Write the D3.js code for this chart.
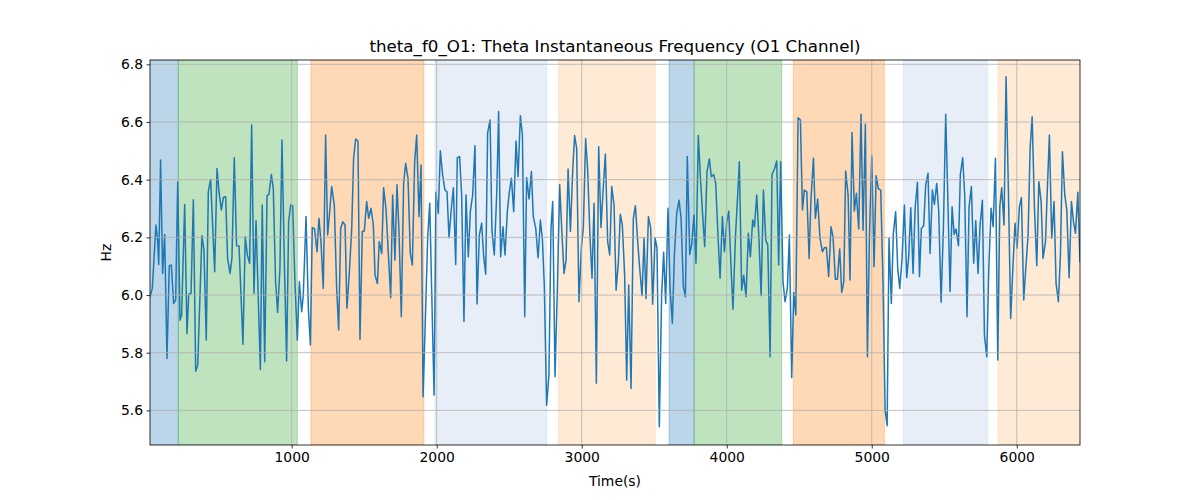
<!DOCTYPE html>
<html><head><meta charset="utf-8">
<script src="https://cdn.jsdelivr.net/npm/d3@7"></script>
<style>body{margin:0;background:#fff}svg{display:block}text{font-family:"DejaVu Sans",sans-serif;fill:#000}</style>
</head><body><svg id="c" width="1200" height="500"></svg>
<script>
const title = "theta_f0_O1: Theta Instantaneous Frequency (O1 Channel)";
const xLabel = "Time(s)";
const yLabel = "Hz";
const xTicks = [1000, 2000, 3000, 4000, 5000, 6000];
const yTicks = [5.6, 5.8, 6.0, 6.2, 6.4, 6.6, 6.8];
const xDomain = [23, 6436];
const yDomain = [5.48, 6.815];

const spanStart = [0, 218, 1133, 1988, 2839, 3602, 3775, 4459, 5218, 5871];
const spanEnd   = [218, 1039, 1912, 2759, 3506, 3775, 4379, 5087, 5800, 6500];
const spanColor = ["#1f77b4", "#2ca02c", "#ff7f0e", "#aec7e8", "#ffbb78", "#1f77b4", "#2ca02c", "#ff7f0e", "#aec7e8", "#ffbb78"];

const times = [23,39,64,76,83,96,110,124,140,156,170,186,200,214,230,241,262,278,290,306,322,338,352,381,395,411,425,441,469,485,499,515,529,545,558,575,588,604,620,637,664,680,694,710,724,740,754,784,797,814,830,843,860,873,889,903,919,933,949,965,979,993,1007,1023,
1039,1053,1069,1080,1099,1115,1129,1142,1158,1175,1188,1202,1218,1234,1248,1262,1276,1294,1310,1324,1338,1352,1368,1381,1398,1414,1427,1441,1457,1471,1487,1501,1517,1531,1547,1563,1575,1591,1604,1621,1634,1650,1667,1683,1696,1712,1726,1740,1756,1772,1786,1802,1818,1832,1848,1862,1878,1892,1906,1924,1938,1952,1965,1982,1995,2011,2025,2041,
2057,2071,2085,2099,2115,2131,2142,2158,2172,2188,2202,2218,2232,2248,2264,2278,2294,2310,2324,2338,2351,2368,2381,2397,2414,2427,2441,2457,2471,2487,2501,2515,2531,2547,2561,2577,2591,2607,2620,2637,2653,2666,2683,2699,2715,2729,2742,2758,2774,2788,2800,2816,2832,2848,2862,2878,2892,2906,2922,2938,2951,2965,2981,2998,3011,3027,3041,3057,3071,3085,3101,
3117,3133,3147,3163,3179,3193,3207,3223,3237,3253,3266,3280,3296,3310,3324,3340,3356,3370,3386,3400,3416,3430,3443,3460,3476,3489,3506,3519,3535,3551,3565,3579,3595,3609,3625,3639,3655,3671,3685,3701,3715,3728,3745,3758,3774,3788,3804,3818,3834,3848,3864,3880,3894,3910,3924,3940,3954,3970,3984,4000,4014,4030,4043,4060,4073,4087,4103,4117,4133,4149,4163,4179,
4191,4207,4223,4237,4253,4269,4283,4299,4312,4329,4345,4358,4372,4388,4402,4418,4432,4448,4462,4476,4492,4508,4522,4535,4552,4568,4581,4598,4611,4627,4643,4660,4673,4687,4703,4719,4733,4749,4763,4779,4793,4807,4820,4837,4850,4864,4880,4894,4910,4926,4940,4956,4970,4984,5000,5016,5030,5046,5062,5078,5092,5106,5119,5135,5149,5165,5179,5193,5209,
5225,5241,5255,5269,5285,5299,5315,5329,5342,5358,5372,5388,5402,5418,5432,5448,5462,5478,5494,5510,5524,5540,5554,5568,5581,5598,5611,5627,5641,5657,5671,5687,5703,5717,5733,5747,5763,5777,5793,5807,5823,5837,5853,5869,5883,5896,5912,5926,5942,5958,5972,5988,6002,6018,6032,6048,6062,6078,6092,6106,6122,6138,6152,6168,6181,6198,6211,6225,6241,6257,6271,6287,6301,6315,6331,6345,6361,6377,6391,6405,6421,6436];

const values = [5.994,6.023,6.243,6.185,6.106,6.468,6.075,6.210,5.780,6.102,6.104,5.971,5.983,6.391,5.913,5.931,6.314,5.867,6.003,6.006,6.330,5.736,5.757,6.206,6.156,5.844,6.358,6.401,6.081,6.439,6.358,6.295,6.338,6.341,6.127,6.075,6.127,6.476,6.171,6.170,5.829,6.202,6.139,6.110,6.590,6.006,6.258,5.742,6.312,5.769,6.345,6.349,6.418,6.370,6.046,5.940,6.092,6.538,6.127,5.771,6.254,6.312,6.310,6.035,
5.844,6.046,5.942,6.000,6.272,5.954,5.827,6.234,6.229,6.150,6.266,6.185,6.023,6.555,6.208,6.289,6.376,6.312,6.023,5.879,6.231,6.254,6.243,5.954,6.081,6.231,6.474,6.541,6.534,5.847,6.220,6.222,6.324,6.266,6.301,6.243,6.069,6.040,6.185,6.144,6.372,6.301,6.139,5.991,6.347,6.121,6.382,6.220,5.925,6.387,6.457,6.405,6.144,6.104,6.462,6.555,6.272,6.451,5.647,5.954,6.202,6.318,6.023,5.653,6.356,6.283,6.500,6.416,
6.364,6.358,6.199,6.289,6.372,6.106,6.476,6.480,6.347,5.908,6.347,6.133,6.289,6.347,6.518,5.969,6.208,6.249,6.133,6.072,6.561,6.607,6.225,6.139,6.353,6.636,6.133,6.237,6.139,6.289,6.358,6.405,6.289,6.534,6.410,6.622,6.555,5.925,6.407,6.333,6.428,6.272,6.231,6.129,6.260,6.191,6.035,5.618,5.723,6.231,6.324,5.717,6.023,6.382,6.231,6.075,6.121,6.437,6.220,6.434,6.553,6.509,5.977,6.168,6.231,6.543,6.434,6.202,6.058,6.318,5.694,
6.514,6.234,6.358,6.489,6.185,6.139,6.376,6.312,6.017,6.116,6.280,6.243,6.069,5.705,6.035,5.676,6.266,6.310,6.185,6.092,5.998,6.197,5.988,6.272,6.231,5.968,6.197,6.164,5.543,6.000,6.148,5.971,6.301,6.023,5.902,6.139,6.283,6.329,6.266,6.029,5.994,6.480,6.141,6.173,6.277,6.110,6.553,6.410,6.277,6.168,6.428,6.472,6.410,6.418,6.387,6.202,6.058,6.272,6.150,6.254,6.291,6.092,5.951,6.202,6.324,6.462,6.017,6.069,5.994,6.214,6.133,6.260,
6.237,6.347,6.185,5.998,6.364,6.191,6.173,5.786,6.418,6.437,6.465,6.104,6.462,6.046,5.977,6.023,6.208,5.713,6.009,5.931,6.615,6.607,6.295,6.364,6.358,6.127,6.335,6.474,6.266,6.333,6.197,6.150,6.164,6.165,6.064,6.237,6.202,6.055,6.055,6.160,6.009,6.046,6.430,6.347,6.052,6.564,6.291,6.353,6.229,6.627,6.225,6.592,5.786,6.202,6.483,6.098,6.414,6.368,6.364,6.035,5.601,5.547,6.197,5.971,6.214,6.289,6.092,6.023,6.127,
6.312,6.060,6.133,6.303,6.075,6.301,6.391,6.064,6.231,6.240,6.382,6.422,6.144,6.364,6.314,6.387,6.289,5.975,6.231,6.627,6.347,6.012,6.306,6.210,6.229,6.171,6.418,6.476,6.347,5.925,6.306,6.376,6.110,6.258,6.075,6.243,6.329,5.861,5.786,6.092,6.301,6.237,6.474,5.775,6.306,6.372,6.243,6.757,6.370,5.919,6.081,6.249,6.162,6.306,6.338,5.983,6.092,6.208,6.509,6.618,6.301,6.102,6.393,6.324,6.127,6.185,6.370,6.555,6.197,6.324,6.040,5.977,6.139,6.497,6.347,6.295,6.060,6.324,6.254,6.214,6.356,6.116];

const W = 1200, H = 500;
const m = {left: 150, right: 1080, top: 60, bottom: 445};
const svg = d3.select("#c");
const x = d3.scaleLinear().domain(xDomain).range([m.left, m.right]);
const y = d3.scaleLinear().domain(yDomain).range([m.bottom, m.top]);

svg.append("defs").append("clipPath").attr("id", "clip")
  .append("rect").attr("x", m.left).attr("y", m.top).attr("width", m.right - m.left).attr("height", m.bottom - m.top);

const plot = svg.append("g").attr("clip-path", "url(#clip)");

// spans
plot.selectAll("rect.span").data(spanStart.map((s, i) => ({s, e: spanEnd[i], c: spanColor[i]})))
  .enter().append("rect").attr("class", "span")
  .attr("x", d => x(d.s)).attr("width", d => x(d.e) - x(d.s))
  .attr("y", m.top).attr("height", m.bottom - m.top)
  .attr("fill", d => d.c).attr("fill-opacity", 0.3)
  .attr("stroke", d => d.c).attr("stroke-opacity", 0.3).attr("stroke-width", 1);

// grid
const grid = svg.append("g");
grid.selectAll("line.gx").data(xTicks).enter().append("line")
  .attr("x1", d => x(d)).attr("x2", d => x(d)).attr("y1", m.top).attr("y2", m.bottom)
  .attr("stroke", "#b0b0b0").attr("stroke-width", 0.8);
grid.selectAll("line.gy").data(yTicks).enter().append("line")
  .attr("y1", d => y(d)).attr("y2", d => y(d)).attr("x1", m.left).attr("x2", m.right)
  .attr("stroke", "#b0b0b0").attr("stroke-width", 0.8);

// line
const data = times.map((t, i) => [t, values[i]]);
plot.append("path").datum(data)
  .attr("d", d3.line().x(d => x(d[0])).y(d => y(d[1])))
  .attr("fill", "none").attr("stroke", "#1f77b4").attr("stroke-width", 1.5)
  .attr("stroke-linejoin", "round").attr("stroke-linecap", "square");

// axes
const xAxis = d3.axisBottom(x).tickValues(xTicks).tickSize(3.5).tickPadding(3.5).tickFormat(d3.format("d"));
const gx = svg.append("g").attr("transform", `translate(0,${m.bottom})`).call(xAxis);
const yAxis = d3.axisLeft(y).tickValues(yTicks).tickSize(3.5).tickPadding(3.5).tickFormat(d3.format(".1f"));
const gy = svg.append("g").attr("transform", `translate(${m.left},0)`).call(yAxis);
[gx, gy].forEach(g => {
  g.select(".domain").remove();
  g.selectAll(".tick line").attr("stroke", "#000").attr("stroke-width", 0.8);
  g.selectAll(".tick text").attr("font-size", "13.9px").attr("font-family", "DejaVu Sans").attr("fill", "#000");
});

// frame
svg.append("rect").attr("x", m.left).attr("y", m.top).attr("width", m.right - m.left).attr("height", m.bottom - m.top)
  .attr("fill", "none").attr("stroke", "#000").attr("stroke-width", 0.8);

svg.append("text").attr("x", (m.left + m.right) / 2).attr("y", 52).attr("text-anchor", "middle")
  .attr("font-size", "16.7px").text(title);
svg.append("text").attr("x", (m.left + m.right) / 2).attr("y", 486).attr("text-anchor", "middle")
  .attr("font-size", "13.9px").text(xLabel);
svg.append("text").attr("transform", `translate(111,${(m.top + m.bottom) / 2}) rotate(-90)`).attr("text-anchor", "middle")
  .attr("font-size", "13.9px").text(yLabel);
</script></body></html>
